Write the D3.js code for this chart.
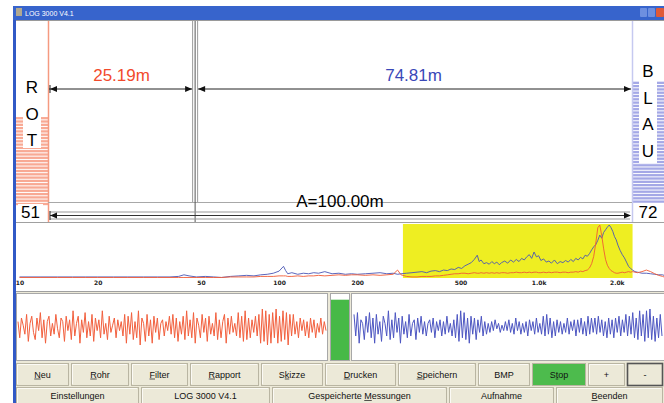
<!DOCTYPE html>
<html>
<head>
<meta charset="utf-8">
<script src="https://cdn.jsdelivr.net/npm/d3@7"></script>
<style>
  body { margin: 0; background: #fff; }
  svg { display: block; font-family: "Liberation Sans", Arial, sans-serif; }
</style>
</head>
<body>
<svg id="app" width="664" height="403"></svg>
<script>
// ---- data ----
const titleText = "LOG 3000 V4.1";
const pipeLength = 100.0;
const leakFromRed = 25.19;
const redLevel = 51;
const blueLevel = 72;
const volumeLevel = 90;
const filterBand = [300, 2300];

const freqTicks = [10, 20, 50, 100, 200, 500, 1000, 2000];
const freqTickLabels = ["10", "20", "50", "100", "200", "500", "1.0k", "2.0k"];

const spectrumFreqs = [
  10, 12, 14, 16, 18, 20, 23, 26, 30, 34,
  38, 41, 43, 45, 48, 52, 56, 60, 65, 70,
  75, 80, 85, 90, 95, 100, 104, 106, 108, 112,
  118, 124, 130, 136, 142, 150, 160, 170, 180, 190,
  200, 215, 230, 245, 260, 275, 286, 295, 310, 325,
  340, 355, 370, 385, 400, 415, 430, 445, 460, 475,
  490, 505, 520, 535, 550, 565, 580, 590, 600, 615,
  630, 645, 660, 675, 690, 705, 720, 740, 760, 780,
  800, 820, 840, 860, 880, 900, 920, 940, 960, 980,
  1000, 1020, 1045, 1070, 1095, 1120, 1150, 1180, 1210, 1240,
  1270, 1300, 1330, 1360, 1390, 1420, 1450, 1480, 1510, 1540,
  1570, 1600, 1630, 1660, 1690, 1720, 1750, 1780, 1810, 1840,
  1870, 1900, 1930, 1960, 1990, 2020, 2060, 2100, 2140, 2180,
  2220, 2260, 2300, 2350, 2400, 2450, 2500, 2600, 2700, 2800,
  2900, 3000, 3040
];
const blueSpectrum = [
  2, 2, 2, 2, 2, 2, 2, 2, 2, 2,
  2, 3, 6, 4, 2, 3, 2, 1, 3, 4,
  5, 4, 6, 7, 9, 13, 22, 14, 8, 10,
  7, 9, 8, 10, 9, 12, 8, 9, 7, 8,
  7, 8, 9, 10, 8, 9, 7, 8, 9, 10,
  11, 12, 10, 13, 14, 12, 15, 14, 17, 16,
  20, 18, 23, 26, 29, 35, 43, 31, 34, 27,
  29, 26, 31, 27, 30, 25, 29, 32, 28, 34,
  30, 35, 31, 37, 34, 40, 44, 37, 49, 40,
  42, 33, 36, 30, 32, 28, 34, 27, 31, 29,
  33, 30, 35, 31, 37, 34, 39, 36, 43, 41,
  46, 53, 59, 63, 71, 81, 75, 86, 91, 96,
  100, 95, 88, 78, 72, 62, 52, 44, 38, 30,
  22, 18, 15, 12, 11, 10, 9, 9, 8, 7,
  6, 6, 5
];
const redSpectrum = [
  1, 1, 1, 1, 1, 1, 1, 1, 1, 1,
  1, 1, 1, 1, 1, 1, 1, 1, 2, 2,
  2, 2, 3, 3, 3, 4, 4, 4, 3, 3,
  4, 3, 4, 4, 5, 4, 5, 6, 5, 6,
  6, 5, 6, 5, 6, 7, 15, 6, 3, 2,
  2, 3, 3, 3, 4, 4, 5, 6, 7, 8,
  8, 9, 9, 8, 9, 10, 9, 9, 10, 9,
  10, 9, 10, 9, 10, 9, 10, 10, 9, 10,
  10, 11, 10, 10, 11, 10, 11, 10, 11, 11,
  10, 10, 11, 10, 11, 10, 11, 11, 10, 11,
  11, 10, 11, 11, 12, 11, 13, 12, 14, 15,
  19, 27, 41, 66, 95, 100, 80, 55, 35, 24,
  18, 14, 12, 10, 9, 9, 10, 11, 10, 11,
  12, 11, 12, 11, 10, 11, 12, 15, 12, 8,
  5, 3, 2
];

const redWave = [
  0.3, -0.6, 0.5, 0.1, -0.4, 0.7, -0.8, 0.2, 0.6, -0.3,
  -0.7, 0.5, -0.2, 0.8, -0.6, 0.4, -0.9, 0.3, 0.6, -0.5,
  0.2, -0.4, 0.7, -0.1, -0.6, 0.5, 0.3, -0.8, 0.6, -0.2,
  0.4, -0.7, 0.9, -0.5, 0.2, 0.6, -0.9, 0.4, -0.3, 0.8,
  -0.6, 0.3, -0.5, 0.7, -0.8, 0.5, -0.2, 0.4, -0.6, 0.9,
  -0.4, 0.2, -0.7, 0.6, -0.3, 0.1, 0.5, -0.6, 0.4, -0.2,
  0.3, -0.5, 0.7, -0.9, 0.6, -0.4, 0.8, -0.7, 0.3, -0.6,
  0.9, -1.0, 0.5, 0.2, -0.8, 0.7, -0.5, 0.4, -0.9, 0.6,
  -0.3, 0.5, -0.7, 0.2, 0.4, -0.5, 0.3, -0.2, 0.6, -0.4,
  0.7, -0.6, 0.5, -0.8, 0.3, -0.4, 0.6, -0.7, 0.9, -0.5,
  0.4, -0.6, 0.8, -0.9, 0.5, 0.1, -0.6, 0.7, -0.3, 0.5,
  -0.8, 0.6, -0.4, 0.2, -0.5, 0.8, -0.7, 0.4, -0.6, 0.3,
  0.7, -0.9, 0.5, -0.4, 0.6, -0.3, 0.2, -0.5, 0.8, -0.6,
  0.6, -0.8, 0.9, -0.7, 0.5, -0.6, 0.4, -0.3, 0.6, -0.5,
  0.7, -0.9, 1.0, -0.8, 0.9, -1.0, 0.7, -0.9, 0.8, -0.6,
  1.0, -0.9, 0.6, -0.8, 0.9, -0.7, 0.8, -1.0, 0.7, -0.5,
  0.7, -0.4, 0.3, -0.6, 0.5, -0.2, 0.4, -0.5, 0.3, -0.6,
  0.5, -0.3, 0.4, -0.6, 0.2, -0.3, 0.5, -0.4, 0.3, -0.2
];
const blueWave = [
  0.7, -0.5, 0.8, -0.9, 0.4, 0.2, -0.7, 0.6, -0.3, 0.8,
  -0.6, 0.5, -0.9, 0.7, -0.4, 0.3, -0.8, 0.6, 0.2, -0.5,
  0.9, -0.7, 0.4, -0.6, 0.8, -0.3, 0.5, -0.9, 0.6, -0.4,
  0.3, -0.6, 0.7, -0.5, 0.2, 0.4, -0.7, 0.5, -0.3, 0.6,
  -0.4, 0.3, -0.5, 0.2, 0.4, -0.3, 0.5, -0.6, 0.3, -0.2,
  0.4, -0.5, 0.3, -0.4, 0.6, -0.3, 0.2, -0.5, 0.4, -0.6,
  0.7, -0.8, 0.9, -0.6, 0.8, -0.7, 0.5, -0.9, 0.6, -0.4,
  0.5, -0.7, 0.4, -0.3, 0.6, -0.5, 0.3, -0.4, 0.2, -0.3,
  0.3, -0.2, 0.4, -0.1, 0.2, -0.3, 0.1, -0.2, 0.3, -0.2,
  0.4, -0.3, 0.2, -0.4, 0.5, -0.2, 0.3, -0.4, 0.2, -0.3,
  0.3, -0.5, 0.4, -0.2, 0.3, -0.4, 0.5, -0.3, 0.2, -0.4,
  0.6, -0.5, 0.7, -0.4, 0.5, -0.6, 0.3, -0.5, 0.4, -0.3,
  0.3, -0.4, 0.2, -0.3, 0.5, -0.4, 0.3, -0.2, 0.4, -0.5,
  0.4, -0.3, 0.5, -0.4, 0.3, -0.5, 0.6, -0.4, 0.5, -0.3,
  0.5, -0.4, 0.6, -0.3, 0.4, -0.5, 0.3, -0.6, 0.5, -0.4,
  0.4, -0.6, 0.5, -0.3, 0.6, -0.5, 0.4, -0.3, 0.7, -0.5,
  0.6, -0.4, 0.8, -0.6, 0.5, -0.7, 0.9, -0.5, 0.7, -0.8,
  0.9, -0.6, 1.0, -0.7, 0.6, -0.8, 0.5, -0.6, 0.7, -0.5
];

const topButtons = ["Neu", "Rohr", "Filter", "Rapport", "Skizze", "Drucken", "Speichern", "BMP", "Stop", "+", "-"];
const topHotkeys = [0, 0, 0, 0, 1, 0, 0, -1, 1, -1, -1];
const bottomButtons = ["Einstellungen", "LOG 3000 V4.1", "Gespeicherte Messungen", "Aufnahme", "Beenden"];
const bottomHotkeys = [-1, -1, 13, -1, 0];

// ---- layout ----
const svg = d3.select("#app");
const red = "#f24a2c", blue = "#3a48b8";
const redStripe = "#f8a994", blueStripe = "#a4a8e6";
const faceColor = "#ece9d8";

// window frame + title bar
svg.append("rect").attr("x", 13).attr("y", 6).attr("width", 651).attr("height", 397).attr("fill", faceColor);
svg.append("rect").attr("x", 13).attr("y", 6).attr("width", 3).attr("height", 397).attr("fill", "#3159c6");
svg.append("rect").attr("x", 13).attr("y", 6).attr("width", 651).attr("height", 14).attr("fill", "#3764cc");
svg.append("rect").attr("x", 16).attr("y", 8).attr("width", 6).attr("height", 8).attr("fill", "#b0a890");
svg.append("text").attr("x", 25).attr("y", 16).attr("font-size", 7).attr("fill", "#fff").text(titleText);
[640, 648].forEach(x => {
  svg.append("rect").attr("x", x).attr("y", 8).attr("width", 7).attr("height", 9).attr("rx", 1).attr("fill", "#6d8fe0");
});
svg.append("rect").attr("x", 656).attr("y", 8).attr("width", 8).attr("height", 9).attr("rx", 1).attr("fill", "#e05a38");
svg.append("line").attr("x1", 16).attr("x2", 664).attr("y1", 20.5).attr("y2", 20.5).attr("stroke", "#9a9a9a");

// ---- top: pipe section ----
const xPipe = d3.scaleLinear().domain([0, pipeLength]).range([48, 632]);
const yLevel = d3.scaleLinear().domain([0, 108]).range([203, 21]);
const sep = xPipe(leakFromRed);

const pipe = svg.append("g");
pipe.append("rect").attr("x", 16).attr("y", 21).attr("width", 648).attr("height", 201).attr("fill", "#fff");

function stripes(x0, x1, level, color) {
  const y0 = yLevel(level);
  pipe.append("g").selectAll("rect")
    .data(d3.range(y0, 203, 3.3))
    .join("rect")
    .attr("x", x0).attr("width", x1 - x0)
    .attr("y", d => d).attr("height", 2.3)
    .attr("fill", color);
}
stripes(16, 48, redLevel, redStripe);
stripes(633, 664, blueLevel, blueStripe);

// letter boxes
pipe.append("rect").attr("x", 23).attr("y", 21).attr("width", 18).attr("height", 127).attr("fill", "#fff");
pipe.append("rect").attr("x", 639).attr("y", 21).attr("width", 18).attr("height", 142).attr("fill", "#fff");
pipe.selectAll("text.rot").data(["R", "O", "T"]).join("text")
  .attr("class", "rot")
  .attr("x", 32).attr("y", (d, i) => 93 + i * 26.7)
  .attr("text-anchor", "middle").attr("font-size", 17).text(d => d);
pipe.selectAll("text.blau").data(["B", "L", "A", "U"]).join("text")
  .attr("class", "blau")
  .attr("x", 648).attr("y", (d, i) => 77 + i * 26.7)
  .attr("text-anchor", "middle").attr("font-size", 17).text(d => d);

// sensor lines
pipe.append("line").attr("x1", 48.5).attr("x2", 48.5).attr("y1", 21).attr("y2", 222)
  .attr("stroke", "#f59a80").attr("stroke-width", 1.5);
pipe.append("line").attr("x1", 632.5).attr("x2", 632.5).attr("y1", 21).attr("y2", 222)
  .attr("stroke", "#c6c9f0").attr("stroke-width", 1.5);

// leak separator + panel boxes
pipe.append("line").attr("x1", 48).attr("x2", 632).attr("y1", 202.5).attr("y2", 202.5).attr("stroke", "#a8a8a8");
[sep - 2.5, sep + 2.5].forEach(x => {
  pipe.append("line").attr("x1", x).attr("x2", x).attr("y1", 21).attr("y2", 202)
    .attr("stroke", "#9c9c9c");
});
pipe.append("line").attr("x1", sep).attr("x2", sep).attr("y1", 21).attr("y2", 222)
  .attr("stroke", "#555").attr("stroke-width", 1);

function arrowHead(x, y, dir) {
  pipe.append("path")
    .attr("d", `M${x},${y} L${x - dir * 7},${y - 3} L${x - dir * 7},${y + 3} Z`)
    .attr("fill", "#111");
}
// distance arrows
const yArrow = 89;
pipe.append("line").attr("x1", 49).attr("x2", sep - 3).attr("y1", yArrow).attr("y2", yArrow).attr("stroke", "#222");
pipe.append("line").attr("x1", sep + 3).attr("x2", 631).attr("y1", yArrow).attr("y2", yArrow).attr("stroke", "#222");
arrowHead(50, yArrow, -1);
arrowHead(sep - 3, yArrow, 1);
arrowHead(sep + 3, yArrow, -1);
arrowHead(631, yArrow, 1);
pipe.append("line").attr("x1", 50).attr("x2", 50).attr("y1", yArrow - 4).attr("y2", yArrow + 4).attr("stroke", "#222");

pipe.append("text").attr("x", (xPipe(0) + sep) / 2).attr("y", 81)
  .attr("text-anchor", "middle").attr("font-size", 17).attr("fill", red)
  .text(leakFromRed.toFixed(2) + "m");
pipe.append("text").attr("x", (sep + xPipe(pipeLength)) / 2).attr("y", 81)
  .attr("text-anchor", "middle").attr("font-size", 17).attr("fill", blue)
  .text((pipeLength - leakFromRed).toFixed(2) + "m");

// total length row
[212, 219].forEach(y => {
  pipe.append("line").attr("x1", 50).attr("x2", 630).attr("y1", y).attr("y2", y).attr("stroke", "#999");
});
pipe.append("line").attr("x1", 50).attr("x2", 630).attr("y1", 215.5).attr("y2", 215.5).attr("stroke", "#333");
arrowHead(50, 215.5, -1);
arrowHead(631, 215.5, 1);
pipe.append("line").attr("x1", 50).attr("x2", 50).attr("y1", 211).attr("y2", 220).attr("stroke", "#222");
pipe.append("text").attr("x", (xPipe(0) + xPipe(pipeLength)) / 2).attr("y", 207)
  .attr("text-anchor", "middle").attr("font-size", 17)
  .text("A=" + pipeLength.toFixed(2) + "m");

pipe.append("rect").attr("x", 18).attr("y", 204).attr("width", 25).attr("height", 17).attr("fill", "#fff");
pipe.append("text").attr("x", 30.5).attr("y", 218).attr("text-anchor", "middle").attr("font-size", 17).text(redLevel);
pipe.append("rect").attr("x", 637).attr("y", 204).attr("width", 22).attr("height", 17).attr("fill", "#fff");
pipe.append("text").attr("x", 648).attr("y", 218).attr("text-anchor", "middle").attr("font-size", 17).text(blueLevel);

// ---- spectrum ----
const spec = svg.append("g");
spec.append("rect").attr("x", 16).attr("y", 223).attr("width", 648).attr("height", 68).attr("fill", "#fff");
spec.append("line").attr("x1", 16).attr("x2", 664).attr("y1", 222.5).attr("y2", 222.5).attr("stroke", "#a0a0a0");
spec.append("line").attr("x1", 16).attr("x2", 664).attr("y1", 291.5).attr("y2", 291.5).attr("stroke", "#a0a0a0");

const xFreq = d3.scaleLog().domain([10, 3040]).range([19.5, 664]);
const yAmp = d3.scaleLinear().domain([0, 100]).range([278, 225]);

spec.append("rect")
  .attr("x", xFreq(filterBand[0])).attr("width", xFreq(filterBand[1]) - xFreq(filterBand[0]))
  .attr("y", 224).attr("height", 54)
  .attr("fill", "#eeee22");

const specLine = values => d3.line()
  .x((d, i) => xFreq(spectrumFreqs[i]))
  .y(d => yAmp(d))(values);
spec.append("path").attr("d", specLine(blueSpectrum))
  .attr("fill", "none").attr("stroke", "#4a56b4").attr("stroke-width", 0.9);
spec.append("path").attr("d", specLine(redSpectrum))
  .attr("fill", "none").attr("stroke", "#f05a34").attr("stroke-width", 0.9);

const freqAxis = d3.axisBottom(xFreq)
  .tickValues(freqTicks)
  .tickFormat((d, i) => freqTickLabels[i])
  .tickSize(0).tickPadding(3);
spec.append("g").attr("transform", "translate(0,278)").call(freqAxis)
  .call(g => g.select(".domain").remove())
  .call(g => g.selectAll("text")
    .attr("font-family", "'DejaVu Sans', sans-serif")
    .attr("font-size", 6).attr("font-weight", "bold").attr("fill", "#222"));

// ---- waveforms ----
const wave = svg.append("g");
wave.append("rect").attr("x", 16).attr("y", 292).attr("width", 648).attr("height", 70).attr("fill", faceColor);
wave.append("rect").attr("x", 16.5).attr("y", 293.5).attr("width", 311).attr("height", 67)
  .attr("fill", "#fff").attr("stroke", "#a8a8a8");
wave.append("rect").attr("x", 330.5).attr("y", 293.5).attr("width", 19).attr("height", 67)
  .attr("fill", "#fff").attr("stroke", "#a8a8a8");
wave.append("rect").attr("x", 351.5).attr("y", 293.5).attr("width", 313).attr("height", 67)
  .attr("fill", "#fff").attr("stroke", "#a8a8a8");

const yVol = d3.scaleLinear().domain([0, 100]).range([360, 293]);
wave.append("rect").attr("x", 331).attr("width", 18)
  .attr("y", yVol(volumeLevel)).attr("height", yVol(0) - yVol(volumeLevel))
  .attr("fill", "#47b947");

const yWave = d3.scaleLinear().domain([-1, 1]).range([345, 309]);
const xRedWave = d3.scaleLinear().domain([0, redWave.length - 1]).range([18, 326]);
const xBlueWave = d3.scaleLinear().domain([0, blueWave.length - 1]).range([354, 662]);
wave.append("path")
  .attr("d", d3.line().x((d, i) => xRedWave(i)).y(d => yWave(d))(redWave))
  .attr("fill", "none").attr("stroke", "#f2603e").attr("stroke-width", 1);
wave.append("path")
  .attr("d", d3.line().x((d, i) => xBlueWave(i)).y(d => yWave(d))(blueWave))
  .attr("fill", "none").attr("stroke", "#4d56c2").attr("stroke-width", 1);

// ---- buttons ----
const topEdges = [15, 70, 130, 189, 260, 324, 397, 477, 531, 587, 626, 664];
const bottomEdges = [15, 140, 271, 448, 555, 664];

function buttonRow(labels, hotkeys, edges, y0, h, baseline) {
  const g = svg.append("g");
  labels.forEach((label, i) => {
    const x0 = edges[i] + 1, x1 = edges[i + 1] - 1;
    const isStop = label === "Stop";
    const isMinus = label === "-";
    g.append("rect").attr("x", x0 + 0.5).attr("y", y0 + 0.5)
      .attr("width", x1 - x0 - 1).attr("height", h - 1)
      .attr("fill", isStop ? "#4dbb4d" : faceColor)
      .attr("stroke", isMinus ? "#555" : "#b9b5a2")
      .attr("stroke-width", isMinus ? 1.6 : 1);
    if (!isStop && !isMinus) {
      g.append("path").attr("d", `M${x0 + 1.5},${y0 + h - 2} V${y0 + 1.5} H${x1 - 2}`)
        .attr("fill", "none").attr("stroke", "#fbfaf5");
    }
    const t = g.append("text").attr("x", (x0 + x1) / 2).attr("y", baseline)
      .attr("text-anchor", "middle").attr("font-size", 9).attr("fill", "#111")
      .text(label);
    const k = hotkeys[i];
    if (k >= 0) {
      const node = t.node();
      const w = node.getComputedTextLength();
      const start = (x0 + x1) / 2 - w / 2 + (k > 0 ? node.getSubStringLength(0, k) : 0);
      const cw = node.getSubStringLength(k, 1);
      g.append("line").attr("x1", start).attr("x2", start + cw)
        .attr("y1", baseline + 1.5).attr("y2", baseline + 1.5)
        .attr("stroke", "#111").attr("stroke-width", 0.7);
    }
  });
}
buttonRow(topButtons, topHotkeys, topEdges, 363, 23, 377.5);
buttonRow(bottomButtons, bottomHotkeys, bottomEdges, 387, 18, 399);
</script>
</body>
</html>
